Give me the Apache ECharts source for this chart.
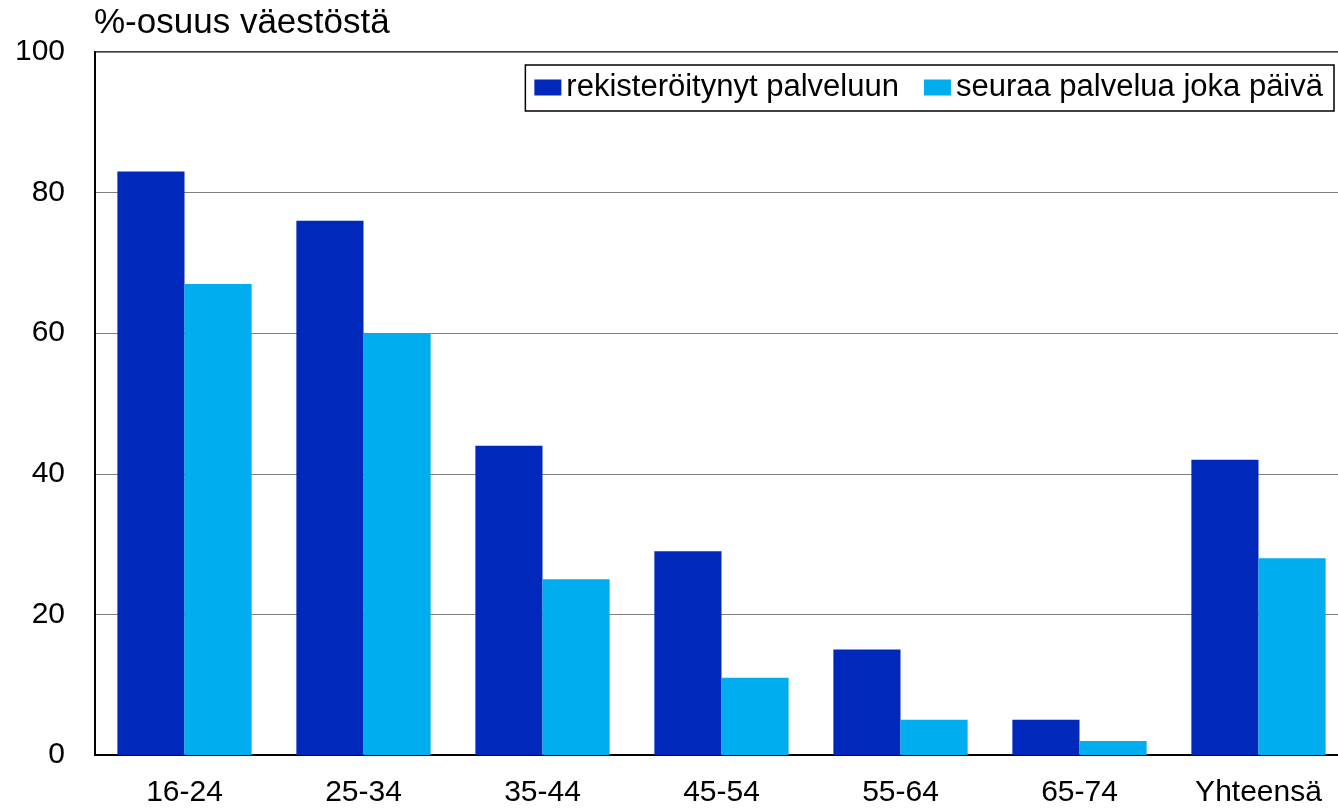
<!DOCTYPE html>
<html>
<head>
<meta charset="utf-8">
<script src="https://cdn.jsdelivr.net/npm/echarts@6/dist/echarts.min.js"></script>
<style>
html,body{margin:0;padding:0;background:#fff;}
#chart{width:1338px;height:810px;}
</style>
</head>
<body>
<div id="chart"></div>
<script>
// ikäryhmät
var categories = ['16-24', '25-34', '35-44', '45-54', '55-64', '65-74', 'Yhteensä'];
var seriesNames = ['rekisteröitynyt palveluun', 'seuraa palvelua joka päivä'];
var registered = [83, 76, 44, 29, 15, 5, 42];
var daily = [67, 60, 25, 11, 5, 2, 28];

var font = '"Liberation Sans", Arial, sans-serif';

var chart = echarts.init(document.getElementById('chart'));

var option = {
    backgroundColor: '#fff',
    animation: false,
    title: {
        text: '%-osuus väestöstä',
        left: 89,
        top: 1,
        textStyle: {fontFamily: font, fontSize: 35, fontWeight: 'normal', color: '#000'}
    },
    legend: {
        right: 4,
        top: 65,
        orient: 'horizontal',
        borderColor: '#000',
        borderWidth: 1.5,
        padding: [7, 11, 8, 9],
        itemGap: 25,
        itemWidth: 27,
        itemHeight: 16,
        icon: 'rect',
        textStyle: {fontFamily: font, fontSize: 31, color: '#000'},
        data: seriesNames
    },
    // kuva-alue jatkuu oikean reunan yli
    grid: {
        left: 95,
        width: 1253,
        top: 52,
        bottom: 55,
        outerBoundsMode: 'none',
        show: true,
        borderColor: '#000',
        borderWidth: 1.5
    },
    xAxis: {
        type: 'category',
        data: categories,
        axisLine: {lineStyle: {color: '#000', width: 2}},
        axisTick: {show: false},
        axisLabel: {fontFamily: font, fontSize: 30, color: '#000', margin: 23}
    },
    yAxis: {
        type: 'value',
        min: 0,
        max: 100,
        interval: 20,
        axisLine: {show: true, lineStyle: {color: '#000', width: 2}},
        axisTick: {show: false},
        axisLabel: {fontFamily: font, fontSize: 30, color: '#000', margin: 30},
        splitLine: {lineStyle: {color: '#808080', width: 1}}
    },
    series: [
        {
            name: seriesNames[0],
            type: 'bar',
            barGap: '0%',
            barCategoryGap: '25%',
            itemStyle: {color: '#0028BA'},
            data: registered
        },
        {
            name: seriesNames[1],
            type: 'bar',
            itemStyle: {color: '#00AEEF'},
            data: daily
        }
    ]
};

chart.setOption(option);
</script>
</body>
</html>
